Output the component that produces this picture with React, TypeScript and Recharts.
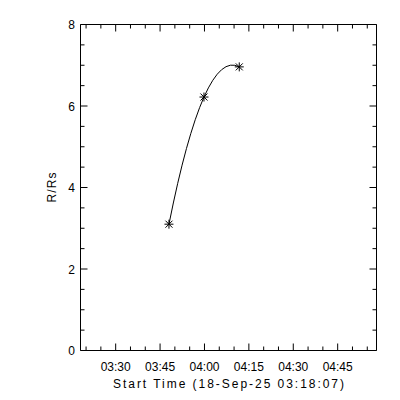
import React from "react";
import { Line, LineChart, XAxis, YAxis } from "recharts";

// start of the run and the plotted range (minutes after midnight)
const startTime = "03:18:07";
const rangeMinutes = 100;

const times = ["03:48:00", "03:59:50", "04:11:45"];
const heights = [3.1, 6.22, 6.96];

const xLabels = ["03:30", "03:45", "04:00", "04:15", "04:30", "04:45"];
const xMinor = [
  "03:20", "03:25", "03:35", "03:40", "03:50", "03:55", "04:05", "04:10",
  "04:20", "04:25", "04:35", "04:40", "04:50", "04:55",
];
const yLabels = [0, 2, 4, 6, 8];
const yMinor = [0.5, 1, 1.5, 2.5, 3, 3.5, 4.5, 5, 5.5, 6.5, 7, 7.5];

const FONT = "'Liberation Sans', Arial, sans-serif";

const toMin = (s: string) => {
  const [h, m, sec = "0"] = s.split(":");
  return +h * 60 + +m + +sec / 60;
};

const t0 = toMin(startTime);
const domainX: [number, number] = [t0, t0 + rangeMinutes];
const majorX = xLabels.map(toMin);
const ticksX = [...majorX, ...xMinor.map(toMin)].sort((a, b) => a - b);
const ticksY = [...yLabels, ...yMinor].sort((a, b) => a - b);

const data = times.map((t, i) => ({ t: toMin(t), r: heights[i] }));

// parabola through consecutive triples, drawn as quadratic beziers
function curveParabola(context: any) {
  let pts: number[][] = [];
  return {
    areaStart() {},
    areaEnd() {},
    lineStart() {
      pts = [];
    },
    point(x: number, y: number) {
      pts.push([+x, +y]);
    },
    lineEnd() {
      const n = pts.length;
      if (!n) return;
      context.moveTo(pts[0][0], pts[0][1]);
      if (n < 3) {
        for (let i = 1; i < n; i++) context.lineTo(pts[i][0], pts[i][1]);
        return;
      }
      for (let i = 0; i < n - 1; i++) {
        const k = Math.min(i, n - 3);
        const [[x0, y0], [x1, y1], [x2, y2]] = [pts[k], pts[k + 1], pts[k + 2]];
        const [xa, ya] = pts[i];
        const [xb, yb] = pts[i + 1];
        const d =
          (y0 * (2 * xa - x1 - x2)) / ((x0 - x1) * (x0 - x2)) +
          (y1 * (2 * xa - x0 - x2)) / ((x1 - x0) * (x1 - x2)) +
          (y2 * (2 * xa - x0 - x1)) / ((x2 - x0) * (x2 - x1));
        const h = (xb - xa) / 2;
        context.quadraticCurveTo(xa + h, ya + d * h, xb, yb);
      }
    },
  };
}

const isMajorX = (v: number) => majorX.some((m) => Math.abs(m - v) < 1e-6);
const isMajorY = (v: number) => yLabels.includes(v);

const BottomTick = (p: any) => {
  const v = p.payload.value;
  const major = isMajorX(v);
  const label = major ? xLabels[majorX.findIndex((m) => Math.abs(m - v) < 1e-6)] : null;
  return (
    <g>
      <line x1={p.x} x2={p.x} y1={p.y} y2={p.y - (major ? 7 : 4)} stroke="#000" />
      {label && (
        <text x={p.x} y={p.y + 20.5} textAnchor="middle" fontSize={12} fontFamily={FONT} fill="#000">
          {label}
        </text>
      )}
    </g>
  );
};

const TopTick = (p: any) => {
  const major = isMajorX(p.payload.value);
  return <line x1={p.x} x2={p.x} y1={p.y} y2={p.y + (major ? 7 : 4)} stroke="#000" />;
};

const LeftTick = (p: any) => {
  const v = p.payload.value;
  const major = isMajorY(v);
  return (
    <g>
      <line x1={p.x} x2={p.x + (major ? 7 : 4)} y1={p.y} y2={p.y} stroke="#000" />
      {major && (
        <text x={p.x - 5.5} y={p.y + 4.5} textAnchor="end" fontSize={12} fontFamily={FONT} fill="#000">
          {v}
        </text>
      )}
    </g>
  );
};

const RightTick = (p: any) => {
  const major = isMajorY(p.payload.value);
  return <line x1={p.x} x2={p.x - (major ? 7 : 4)} y1={p.y} y2={p.y} stroke="#000" />;
};

const renderStar = (p: any) => {
  const { cx, cy } = p;
  const a = 4.5;
  const b = 3.5;
  return (
    <path
      key={`star-${p.index}`}
      d={`M${cx - a},${cy}H${cx + a}M${cx},${cy - a}V${cy + a}M${cx - b},${cy - b}L${cx + b},${cy + b}M${cx - b},${cy + b}L${cx + b},${cy - b}`}
      stroke="#000"
      strokeWidth={1}
      fill="none"
    />
  );
};

export default function App() {
  return (
    <div style={{ position: "absolute", left: 0, top: 0, width: 400, height: 400, background: "#fff" }}>
      <LineChart width={400} height={400} data={data} margin={{ top: 0, right: 0, bottom: 0, left: 0 }}>
        <XAxis
          xAxisId="b"
          dataKey="t"
          type="number"
          domain={domainX}
          allowDataOverflow
          ticks={ticksX}
          interval={0}
          height={49.5}
          tickSize={0}
          tickMargin={0}
          tickLine={false}
          axisLine={{ stroke: "#000" }}
          tick={<BottomTick />}
          label={{
            content: (lp: any) => {
              const vb = lp.viewBox;
              return (
                <text
                  x={vb.x + vb.width / 2}
                  y={vb.y + 37}
                  textAnchor="middle"
                  fontSize={12}
                  fontFamily={FONT}
                  textLength={231}
                  lengthAdjust="spacing"
                  fill="#000"
                >
                  Start Time (18-Sep-25 03:18:07)
                </text>
              );
            },
          }}
        />
        <XAxis
          xAxisId="t"
          orientation="top"
          dataKey="t"
          type="number"
          domain={domainX}
          allowDataOverflow
          ticks={ticksX}
          interval={0}
          height={24.5}
          tickSize={0}
          tickMargin={0}
          tickLine={false}
          axisLine={{ stroke: "#000" }}
          tick={<TopTick />}
        />
        <YAxis
          yAxisId="l"
          type="number"
          domain={[0, 8]}
          allowDataOverflow
          ticks={ticksY}
          interval={0}
          width={80.5}
          tickSize={0}
          tickMargin={0}
          tickLine={false}
          axisLine={{ stroke: "#000" }}
          tick={<LeftTick />}
          label={{
            content: (lp: any) => {
              const vb = lp.viewBox;
              const cy = vb.y + vb.height / 2;
              return (
                <text
                  x={55.5}
                  y={cy}
                  transform={`rotate(-90 55.5 ${cy})`}
                  textAnchor="middle"
                  fontSize={12}
                  fontFamily={FONT}
                  textLength={30}
                  lengthAdjust="spacing"
                  fill="#000"
                >
                  R/Rs
                </text>
              );
            },
          }}
        />
        <YAxis
          yAxisId="r"
          orientation="right"
          type="number"
          domain={[0, 8]}
          allowDataOverflow
          ticks={ticksY}
          interval={0}
          width={23.5}
          tickSize={0}
          tickMargin={0}
          tickLine={false}
          axisLine={{ stroke: "#000" }}
          tick={<RightTick />}
        />
        <Line
          xAxisId="b"
          yAxisId="l"
          dataKey="r"
          type={curveParabola as any}
          stroke="#000"
          strokeWidth={1}
          dot={renderStar}
          activeDot={false}
          isAnimationActive={false}
        />
      </LineChart>
    </div>
  );
}
